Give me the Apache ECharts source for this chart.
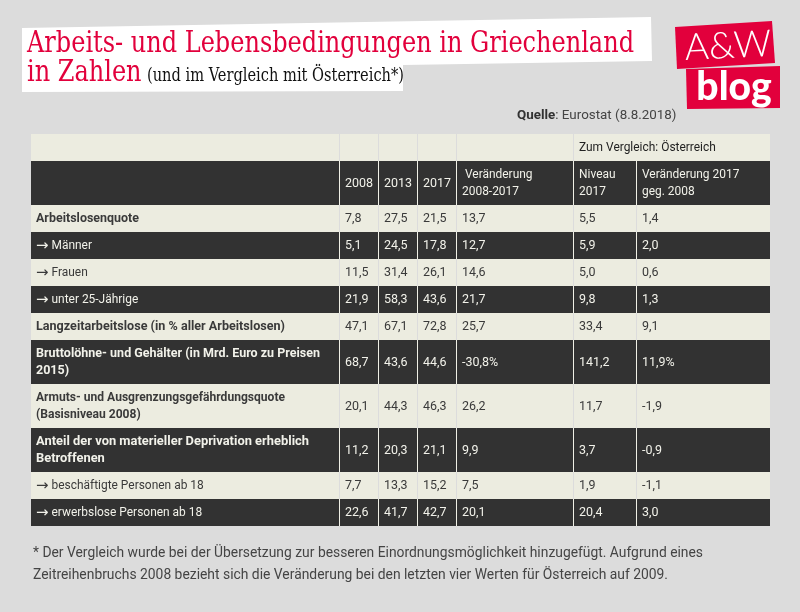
<!DOCTYPE html>
<html><head><meta charset="utf-8">
<style>html,body{margin:0;padding:0;background:#dcdcdc}#c{width:800px;height:612px}</style>
<script src="https://cdn.jsdelivr.net/npm/echarts@6/dist/echarts.min.js"></script>
</head><body><div id="c"></div>
<script>
// ---- data ----
const rowLabels = ["Arbeitslosenquote","→ Männer","→ Frauen","→ unter 25-Jährige","Langzeitarbeitslose (in % aller Arbeitslosen)","Bruttolöhne- und Gehälter (in Mrd. Euro zu Preisen\n2015)","Armuts- und Ausgrenzungsgefährdungsquote\n(Basisniveau 2008)","Anteil der von materieller Deprivation erheblich\nBetroffenen","→ beschäftigte Personen ab 18","→ erwerbslose Personen ab 18"];
const v2008 = ["7,8","5,1","11,5","21,9","47,1","68,7","20,1","11,2","7,7","22,6"];
const v2013 = ["27,5","24,5","31,4","58,3","67,1","43,6","44,3","20,3","13,3","41,7"];
const v2017 = ["21,5","17,8","26,1","43,6","72,8","44,6","46,3","21,1","15,2","42,7"];
const change = ["13,7","12,7","14,6","21,7","25,7","-30,8%","26,2","9,9","7,5","20,1"];
const atLevel = ["5,5","5,9","5,0","9,8","33,4","141,2","11,7","3,7","1,9","20,4"];
const atChange = ["1,4","2,0","0,6","1,3","9,1","11,9%","-1,9","-0,9","-1,1","3,0"];
const headerTop = ["","","","","","Zum Vergleich: Österreich",""];
const headerMain = ["","2008","2013","2017"," Veränderung\n2008-2017","Niveau\n2017","Veränderung 2017\ngeg. 2008"];
const boldRows = [0,4,5,6,7];
const titleLine1 = "Arbeits- und Lebensbedingungen in Griechenland";
const titleLine2 = "in Zahlen";
const subtitle = "(und im Vergleich mit Österreich*)";
const sourceBold = "Quelle";
const sourceRest = ": Eurostat (8.8.2018)";
const note1 = "* Der Vergleich wurde bei der Übersetzung zur besseren Einordnungsmöglichkeit hinzugefügt. Aufgrund eines";
const note2 = "Zeitreihenbruchs 2008 bezieht sich die Veränderung bei den letzten vier Werten für Österreich auf 2009.";

// ---- layout ----
const colEdges = [31,339,378,417,456,573,636,770];
const rowEdges = [134,161,205,232,259,286,313,340,384,428,472,499,526];
const boldLabelWidths = {0:103,4:249,5:284,6:249,7:273};
const LIGHT="#ecece0", DARK="#323232", RED="#e2003c", SANS="'Roboto'";
const columns=[rowLabels,v2008,v2013,v2017,change,atLevel,atChange];
const cells=[];
headerTop.forEach((t,c)=>cells.push({value:[c,0],text:t,bold:false}));
headerMain.forEach((t,c)=>cells.push({value:[c,1],text:t,bold:false}));
columns.forEach((col,c)=>col.forEach((t,r)=>cells.push({value:[c,r+2],text:t,bold:c===0&&boldRows.includes(r),row:r})));

const meas=document.createElement('canvas').getContext('2d');
function fit(text,font,w){meas.font=font;return w/meas.measureText(text).width;}

function renderCell(params,api){
  const c=api.value(0),r=api.value(1);
  const dark=r%2===1, isSpanR=(r===0&&c===6);
  const a=api.coord([colEdges[c],rowEdges[r]]),b=api.coord([colEdges[c+1],rowEdges[r+1]]);
  const kids=[{type:'rect',shape:{x:a[0],y:a[1],width:b[0]-a[0],height:b[1]-a[1]},style:{fill:dark?DARK:LIGHT}}];
  if(c>0&&!isSpanR) kids.push({type:'rect',shape:{x:a[0],y:a[1],width:1,height:b[1]-a[1]},style:{fill:dark?"#f0f0e6":"#dcdcdc"}});
  return {type:'group',children:kids};
}
function renderText(params,api){
  const d=cells[params.dataIndex],c=api.value(0),r=api.value(1);
  const dark=r%2===1;
  const a=api.coord([colEdges[c],rowEdges[r]]),b=api.coord([colEdges[c+1],rowEdges[r+1]]);
  if(!d.text) return {type:'group',children:[]};
  const fill=dark?"#f2f2ea":(r===0?"#222":"#3a3a3a");
  const font=(d.bold?"bold ":"")+"12px "+SANS;
  const numeric=!/[A-Za-zÄÖÜäöü]/.test(d.text)&&d.text.indexOf("→")<0;
  const x=a[0]+(c===0?5:6), y=(a[1]+b[1])/2+0.5;
  const sx=d.bold?fit(d.text.split("\n")[0],font,boldLabelWidths[d.row]):(numeric?1.04:0.995);
  if(d.text.startsWith("→ ")){
    return {type:'text',x:x,y:y,scaleX:sx,style:{text:"{a|→}{t|"+d.text.slice(1)+"}",textAlign:'left',textVerticalAlign:'middle',
      rich:{a:{font:"15px 'DejaVu Sans'",fill:fill},t:{font:font,fill:fill}}}};
  }
  return {type:'text',x:x,y:y,scaleX:sx,
    style:{text:d.text,font:font,lineHeight:17,fill:fill,textAlign:'left',textVerticalAlign:'middle'}};
}

const chart=echarts.init(document.getElementById('c'),null,{renderer:'canvas'});
const f1="29px 'DejaVu Serif Condensed','DejaVu Serif'",f2="18px 'DejaVu Serif Condensed','DejaVu Serif'",fn="15.5px "+SANS;
chart.setOption({
  animation:false,backgroundColor:"#dcdcdc",
  grid:{left:0,right:0,top:0,bottom:0},
  xAxis:{type:'value',min:0,max:800,show:false},
  yAxis:{type:'value',min:0,max:612,inverse:true,show:false},
  graphic:[
    {type:'polygon',shape:{points:[[22,28],[651,17],[652,61],[403,65],[403,91],[22,92]]},style:{fill:"#fff"},z:1},
    {type:'text',x:27,y:44,scaleX:fit(titleLine1,f1,607),style:{text:titleLine1,font:f1,fill:RED,textVerticalAlign:'middle'},z:2},
    {type:'text',x:27,y:73,scaleX:fit(titleLine1,f1,607),style:{text:titleLine2,font:f1,fill:RED,textVerticalAlign:'middle'},z:2},
    {type:'text',x:147,y:76,scaleX:fit(subtitle,f2,257),style:{text:subtitle,font:f2,fill:"#111",textVerticalAlign:'middle'},z:2},
    {type:'polygon',shape:{points:[[675,27],[772,21],[775,63],[677,69]]},style:{fill:RED},z:1},
    {type:'polygon',shape:{points:[[686,69],[780,66],[780,108],[687,109]]},style:{fill:RED},z:1},
    {type:'text',x:728,y:46,rotation:0.05,style:{text:"A&W",font:"300 37px 'Lato'",fill:"#fff",textAlign:'center',textVerticalAlign:'middle'},z:2},
    {type:'text',x:734,y:87,style:{text:"blog",font:"900 39px 'Lato'",fill:"#fff",textAlign:'center',textVerticalAlign:'middle'},z:2},
    {type:'text',x:517,y:116,scaleX:1.03,style:{rich:{b:{font:"bold 13px "+SANS,fill:"#333"},n:{font:"13px "+SANS,fill:"#444"}},text:"{b|"+sourceBold+"}{n|"+sourceRest+"}",textVerticalAlign:'middle'},z:2},
    {type:'text',x:33,y:553,scaleX:fit(note1,fn,670),style:{text:note1,font:fn,fill:"#444",textVerticalAlign:'middle'},z:2},
    {type:'text',x:33,y:575,scaleX:fit(note2,fn,635),style:{text:note2,font:fn,fill:"#444",textVerticalAlign:'middle'},z:2}
  ],
  series:[
    {type:'custom',coordinateSystem:'cartesian2d',clip:false,data:cells,renderItem:renderCell,encode:{x:0,y:1},silent:true,z:2},
    {type:'custom',coordinateSystem:'cartesian2d',clip:false,data:cells,renderItem:renderText,encode:{x:0,y:1},silent:true,z:3}
  ]
});
</script></body></html>
